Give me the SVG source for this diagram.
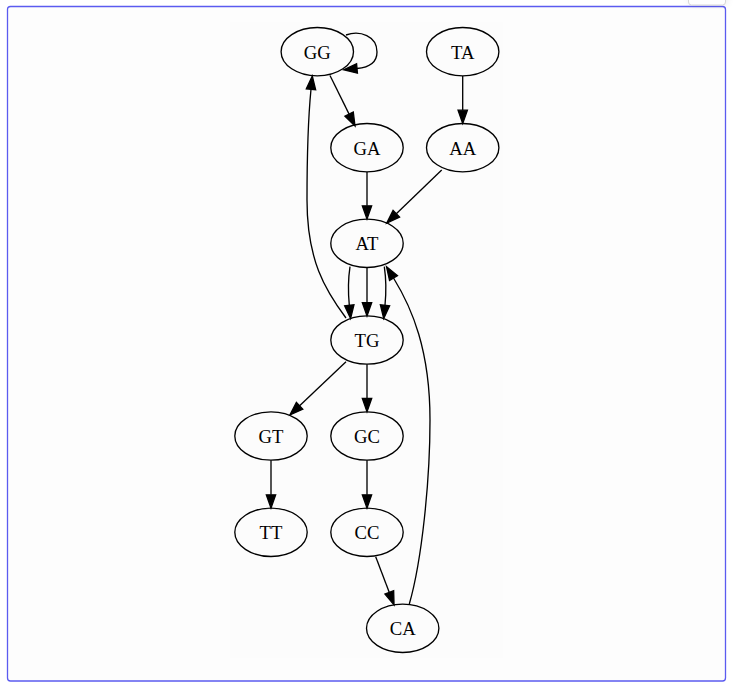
<svg xmlns="http://www.w3.org/2000/svg" width="735" height="690" viewBox="0 0 735 690">
  <style>
    .node ellipse { fill: none; stroke: #000; stroke-width: 1.33; }
    .node text { font-family: "Liberation Serif", "Times New Roman", serif; font-size: 18.67px; text-anchor: middle; fill: #000; }
    .edges path { fill: none; stroke: #000; stroke-width: 1.33; marker-end: url(#arrow); }
  </style>
  <defs>
    <marker id="arrow" markerUnits="userSpaceOnUse" markerWidth="14" markerHeight="10" refX="0" refY="4.67" orient="auto" overflow="visible">
      <path d="M0,0 L13.3,4.67 L0,9.33 z" fill="#000" stroke="#000" stroke-width="1.33"/>
    </marker>
    <filter id="sh" x="-50%" y="-50%" width="200%" height="200%">
      <feGaussianBlur stdDeviation="4"/>
    </filter>
  </defs>
  <rect x="0" y="0" width="735" height="690" fill="#ffffff"/>
  <g id="frame">
    <rect x="7.5" y="6.5" width="718" height="674.5" rx="3" ry="3" fill="#fdfdfd" stroke="#5b5bf0" stroke-width="1.3"/>
    <rect x="230" y="22" width="273" height="636" fill="#fcfcfc"/>
  </g>
  <g id="ui-tab">
    <rect x="690" y="-6" width="36" height="10" rx="3" fill="#000" opacity="0.12" filter="url(#sh)"/>
    <rect x="688.5" y="-6" width="37" height="11" rx="3" fill="#ffffff" stroke="#d8d8d8" stroke-width="1"/>
  </g>
  <g class="edges" id="edges">
    <path d="M346,35 C360,30 377,36 377,52 C377,63 368,67.5 357,68.5"/>
    <path d="M330,75.5 L349.1,114.1"/>
    <path d="M462.7,76 L462.7,110.2"/>
    <path d="M367,172 L367,205.8"/>
    <path d="M441.7,170 L396.3,213.8"/>
    <path d="M350,266.7 C348,280 348,292 349.3,305.3"/>
    <path d="M367,267.5 L367,302.7"/>
    <path d="M384.3,266.7 C386.3,280 386.3,292 385,305.3"/>
    <path d="M346,318 C325,290 307,260 307,200 C307,150 308,120 311,89.3"/>
    <path d="M409.3,604 C422,560 430,480 430,420 C430,350 412,308 393.5,278"/>
    <path d="M346,361.7 L299.6,405.8"/>
    <path d="M367,364.2 L367,398.5"/>
    <path d="M271,460.2 L271,494.8"/>
    <path d="M367,460.2 L367,494.8"/>
    <path d="M375.7,556.7 L389.3,592.4"/>
  </g>
  <g class="node" id="node-GG"><ellipse cx="317.3" cy="51.7" rx="36.2" ry="24.2"/><text x="317.3" y="58.5">GG</text></g>
  <g class="node" id="node-TA"><ellipse cx="462.7" cy="51.7" rx="36.2" ry="24.2"/><text x="462.7" y="58.5">TA</text></g>
  <g class="node" id="node-GA"><ellipse cx="367" cy="147.7" rx="36.2" ry="24.2"/><text x="367" y="154.5">GA</text></g>
  <g class="node" id="node-AA"><ellipse cx="462.7" cy="147.7" rx="36.2" ry="24.2"/><text x="462.7" y="154.5">AA</text></g>
  <g class="node" id="node-AT"><ellipse cx="367" cy="243.3" rx="36.2" ry="24.2"/><text x="367" y="250.1">AT</text></g>
  <g class="node" id="node-TG"><ellipse cx="367" cy="340" rx="36.2" ry="24.2"/><text x="367" y="346.8">TG</text></g>
  <g class="node" id="node-GT"><ellipse cx="271" cy="436" rx="36.2" ry="24.2"/><text x="271" y="442.8">GT</text></g>
  <g class="node" id="node-GC"><ellipse cx="367" cy="436" rx="36.2" ry="24.2"/><text x="367" y="442.8">GC</text></g>
  <g class="node" id="node-TT"><ellipse cx="271" cy="532.3" rx="36.2" ry="24.2"/><text x="271" y="539.1">TT</text></g>
  <g class="node" id="node-CC"><ellipse cx="367" cy="532.3" rx="36.2" ry="24.2"/><text x="367" y="539.1">CC</text></g>
  <g class="node" id="node-CA"><ellipse cx="402.7" cy="628.3" rx="36.2" ry="24.2"/><text x="402.7" y="635.1">CA</text></g>
</svg>
